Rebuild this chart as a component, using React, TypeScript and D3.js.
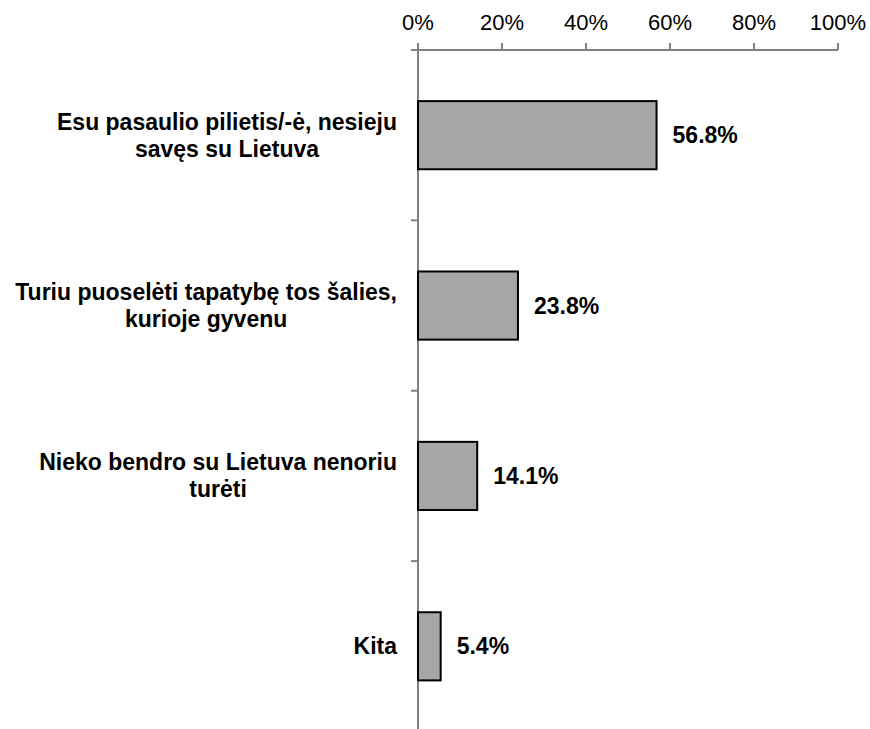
import React, { useEffect, useRef } from "react";
import * as d3 from "d3";

const categories: string[][] = [
  ["Esu pasaulio pilietis/-ė, nesieju", "savęs su Lietuva"],
  ["Turiu puoselėti tapatybę tos šalies,", "kurioje gyvenu"],
  ["Nieko bendro su Lietuva nenoriu", "turėti"],
  ["Kita"],
];
const values: number[] = [56.8, 23.8, 14.1, 5.4];
const xTicks: number[] = [0, 20, 40, 60, 80, 100];

const W = 870;
const H = 729;

export default function App() {
  const ref = useRef<SVGSVGElement>(null);

  useEffect(() => {
    document.body.style.margin = "0";
    const svg = d3.select(ref.current);
    svg.selectAll("*").remove();

    const x = d3.scaleLinear().domain([0, 100]).range([418, 838]);
    const keys = categories.map((_, i) => String(i));
    const y = d3
      .scaleBand<string>()
      .domain(keys)
      .range([50, 731.5])
      .paddingInner(0.6)
      .paddingOuter(0.3);

    const axisColor = "#808080";

    // top axis
    svg
      .append("line")
      .attr("x1", 411)
      .attr("x2", x(100))
      .attr("y1", 50)
      .attr("y2", 50)
      .attr("stroke", axisColor)
      .attr("stroke-width", 2);
    svg
      .selectAll(".xt")
      .data(xTicks)
      .enter()
      .append("line")
      .attr("x1", (d) => x(d))
      .attr("x2", (d) => x(d))
      .attr("y1", 43)
      .attr("y2", 50)
      .attr("stroke", axisColor)
      .attr("stroke-width", 2);
    svg
      .selectAll(".xl")
      .data(xTicks)
      .enter()
      .append("text")
      .attr("x", (d) => x(d))
      .attr("y", 29.5)
      .attr("text-anchor", "middle")
      .attr("font-family", "Liberation Sans, Arial, sans-serif")
      .attr("font-size", 22)
      .attr("fill", "#000")
      .text((d) => `${d}%`);

    // left axis
    svg
      .append("line")
      .attr("x1", x(0))
      .attr("x2", x(0))
      .attr("y1", 43)
      .attr("y2", H)
      .attr("stroke", axisColor)
      .attr("stroke-width", 2);
    const boundaries = keys.map((k) => (y(k) as number) - (y.step() * y.paddingInner()) / 2);
    svg
      .selectAll(".yt")
      .data(boundaries.slice(1))
      .enter()
      .append("line")
      .attr("x1", 411)
      .attr("x2", x(0))
      .attr("y1", (d) => d)
      .attr("y2", (d) => d)
      .attr("stroke", axisColor)
      .attr("stroke-width", 2);

    // bars
    svg
      .selectAll(".bar")
      .data(values)
      .enter()
      .append("rect")
      .attr("x", x(0))
      .attr("y", (_, i) => y(keys[i]) as number)
      .attr("width", (d) => x(d) - x(0))
      .attr("height", y.bandwidth())
      .attr("fill", "#a6a6a6")
      .attr("stroke", "#000")
      .attr("stroke-width", 2);

    // value labels
    svg
      .selectAll(".vl")
      .data(values)
      .enter()
      .append("text")
      .attr("x", (d) => x(d) + 16)
      .attr("y", (_, i) => (y(keys[i]) as number) + y.bandwidth() / 2)
      .attr("dy", "0.35em")
      .attr("font-family", "Liberation Sans, Arial, sans-serif")
      .attr("font-weight", "bold")
      .attr("font-size", 23)
      .attr("fill", "#000")
      .text((d) => `${d.toFixed(1)}%`);

    // category labels
    const lineH = 27;
    categories.forEach((lines, i) => {
      const cy = (y(keys[i]) as number) + y.bandwidth() / 2;
      const g = svg.append("g");
      const texts = lines.map((ln, j) =>
        g
          .append("text")
          .attr("y", cy + (j - (lines.length - 1) / 2) * lineH)
          .attr("dy", "0.35em")
          .attr("text-anchor", "middle")
          .attr("font-family", "Liberation Sans, Arial, sans-serif")
          .attr("font-weight", "bold")
          .attr("font-size", 23)
          .attr("fill", "#000")
          .text(ln)
      );
      const widths = texts.map((t) => (t.node() as SVGTextElement).getComputedTextLength());
      const maxW = Math.max(...widths);
      const cx = 397 - maxW / 2;
      texts.forEach((t) => t.attr("x", cx));
    });
  }, []);

  return (
    <svg
      ref={ref}
      width={W}
      height={H}
      style={{ position: "absolute", left: 0, top: 0, background: "#fff" }}
    />
  );
}
